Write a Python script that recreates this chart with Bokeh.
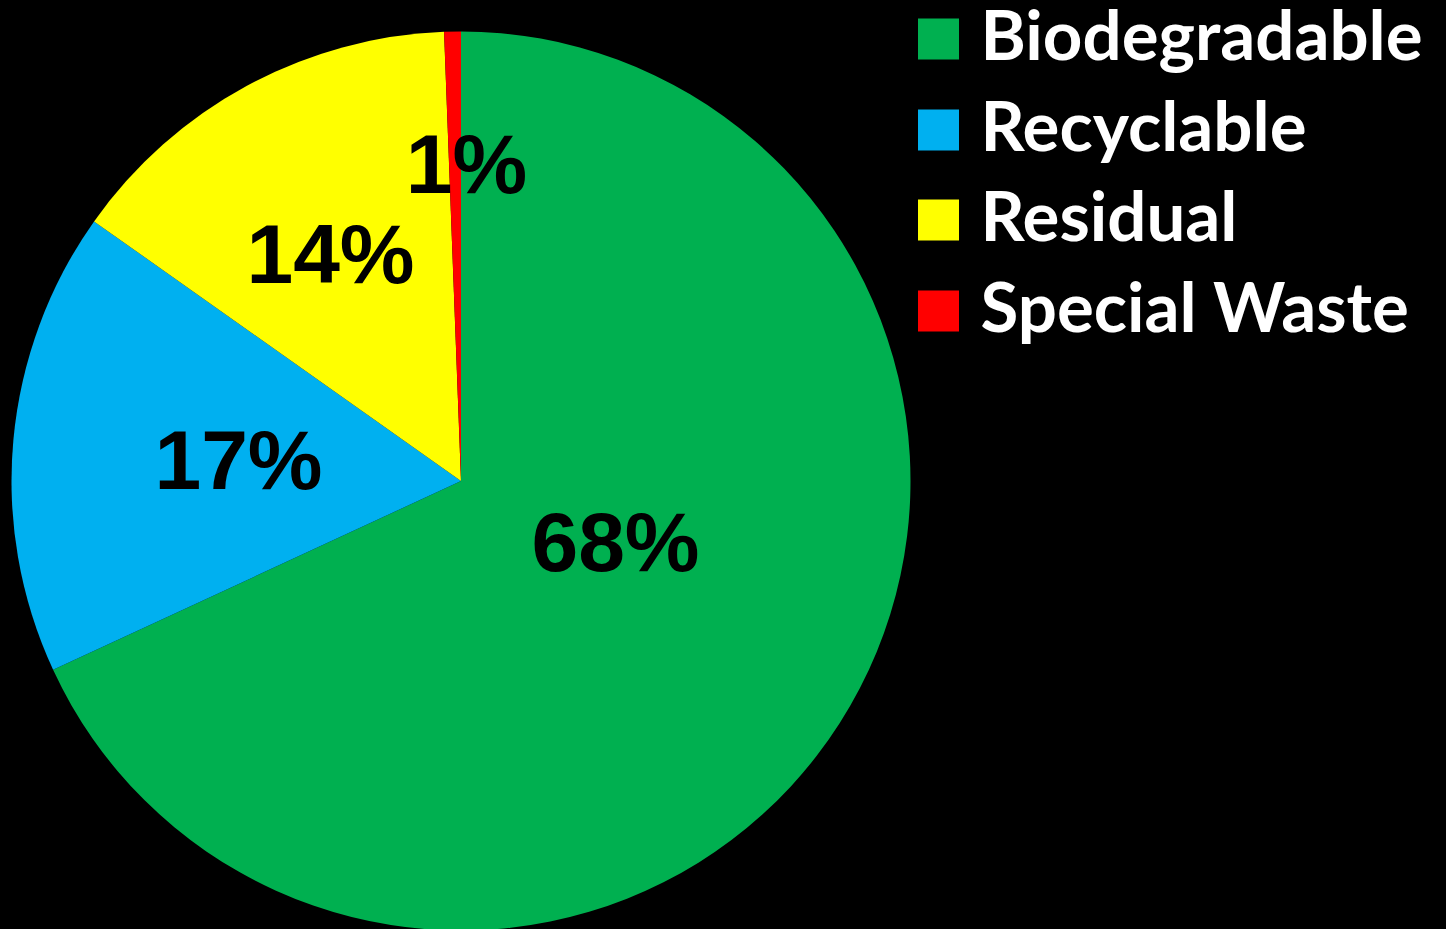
import math
from bokeh.plotting import figure
from bokeh.models import Range1d, ColumnDataSource
from bokeh.core.properties import value
from bokeh.embed import file_html
from bokeh.resources import INLINE

# ---- data ----
categories = ["Biodegradable", "Recyclable", "Residual", "Special Waste"]
shares = [68.1, 16.7, 14.6, 0.6]
labels = ["68%", "17%", "14%", "1%"]
colors = ["#00B050", "#00B0F0", "#FFFF00", "#FF0000"]

# ---- layout (reference pixel coordinates, y measured downward) ----
W, H = 1446, 929
cx, cy, R = 460.5, 480.5, 449.5
label_pos = [(615, 573), (238, 491), (330, 285), (466, 195)]  # center x, baseline y
label_px = 84
legend_sq_x, legend_sq_size = 938, 41
legend_txt_x = 980
legend_base = [59, 150, 240, 331]
legend_px = 69
BASE_SHIFT = 0.375  # renderer places alphabetic baseline this many em lower

p = figure(width=W, height=H, output_backend="svg", toolbar_location=None,
           x_range=Range1d(0, W), y_range=Range1d(-H, 0),
           min_border=0, background_fill_color="black", border_fill_color="black",
           outline_line_color=None)
p.axis.visible = False
p.grid.visible = False

total = sum(shares)
starts, ends = [], []
cum = 0.0
for s in shares:
    starts.append(math.radians(90 - cum / total * 360))
    cum += s
    ends.append(math.radians(90 - cum / total * 360))

src = ColumnDataSource(dict(start=starts, end=ends, color=colors, cat=categories))
p.wedge(x=cx, y=-cy, radius=R, start_angle="start", end_angle="end",
        direction="clock", fill_color="color", line_color=None, source=src)

lsrc = ColumnDataSource(dict(x=[lp[0] for lp in label_pos],
                             y=[-(lp[1] - BASE_SHIFT * label_px) for lp in label_pos], t=labels))
p.text(x="x", y="y", text="t", source=lsrc, text_font=value("Liberation Sans"),
       text_font_style="bold", text_font_size=f"{label_px}px", text_color="black",
       text_align="center", text_baseline="alphabetic")

gsrc = ColumnDataSource(dict(x=[legend_sq_x] * 4,
                             y=[-(b - legend_sq_size / 2) for b in legend_base],
                             tx=[legend_txt_x] * 4,
                             ty=[-(b - BASE_SHIFT * legend_px) for b in legend_base],
                             color=colors, cat=categories))
p.rect(x="x", y="y", width=legend_sq_size, height=legend_sq_size, fill_color="color",
       line_color=None, source=gsrc)
p.text(x="tx", y="ty", text="cat", source=gsrc, text_font=value("Lato"),
       text_font_style="bold", text_font_size=f"{legend_px}px", text_color="white",
       text_align="left", text_baseline="alphabetic")

html = file_html(p, INLINE)
html = html.replace("</head>", "<style>html,body{background:#000000;}</style></head>", 1)
open("out.html", "w").write(html)
